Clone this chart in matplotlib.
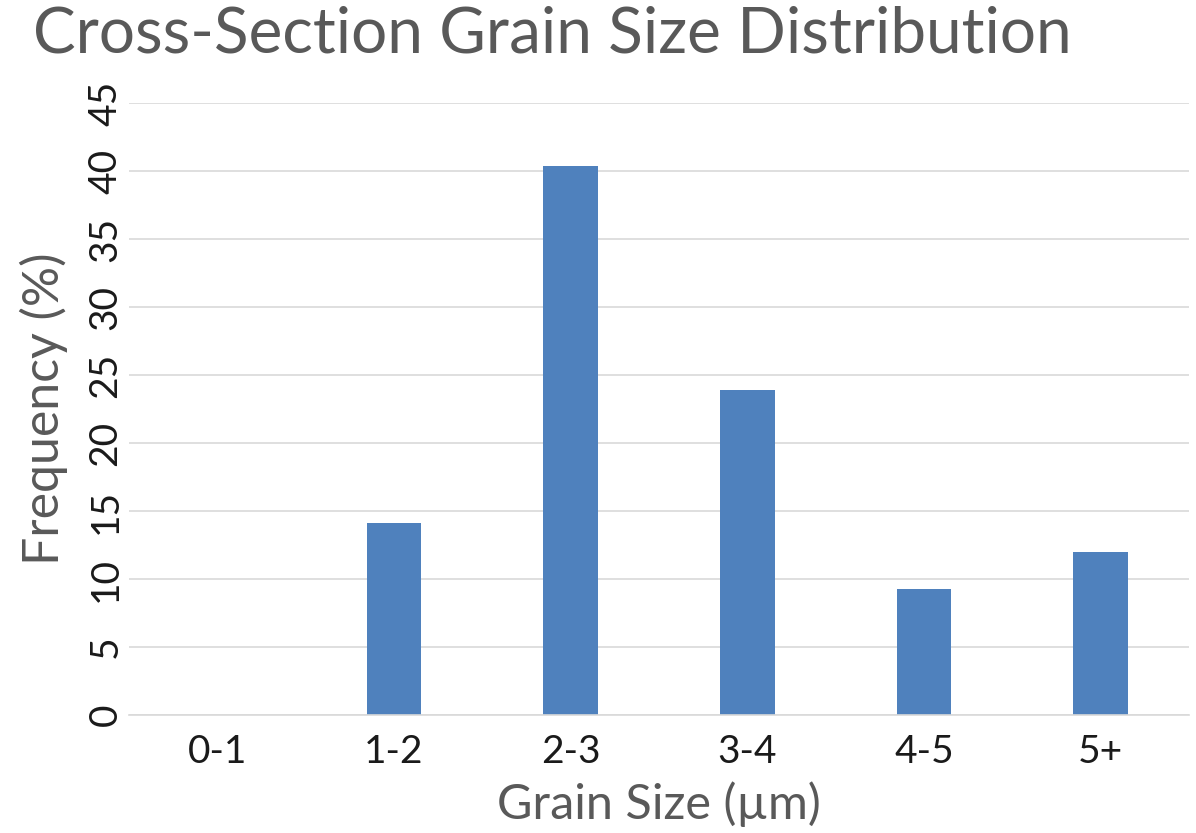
import matplotlib
matplotlib.use("Agg")
import matplotlib.pyplot as plt
import numpy as np

categories = ["0-1", "1-2", "2-3", "3-4", "4-5", "5+"]
frequency = [0.0, 14.1, 40.4, 23.9, 9.3, 12.0]
yticks = [0, 5, 10, 15, 20, 25, 30, 35, 40, 45]

plt.rcParams['font.family'] = ['Lato', 'DejaVu Sans']

fig = plt.figure(figsize=(11.96, 8.33), dpi=100)
W, H = 1196, 833
ax = fig.add_axes([129 / W, (H - 715) / H, (1189 - 129) / W, (715 - 103) / H])

x = np.arange(len(categories))
ax.bar(x, frequency, width=0.31, color="#4f81bd", zorder=3)

ax.set_xlim(-0.5, len(categories) - 0.5)
ax.set_ylim(0, 45)
ax.set_yticks(yticks)
ax.set_yticklabels([str(t) for t in yticks])
ax.set_xticks(x)
ax.set_xticklabels(categories)

ax.grid(axis="y", color="#d9d9d9", linewidth=1.2, zorder=0)
for s in ["top", "right", "left"]:
    ax.spines[s].set_visible(False)
ax.spines["bottom"].set_color("#d9d9d9")
ax.spines["bottom"].set_linewidth(1.2)
ax.spines["bottom"].set_zorder(4)

ax.tick_params(axis="both", length=0, labelsize=28, labelcolor="#1a1a1a")
ax.tick_params(axis="x", pad=14)
ax.tick_params(axis="y", pad=4)
for lbl in ax.get_yticklabels():
    lbl.set_rotation(90)
    lbl.set_va("center")
    lbl.set_ha("right")

ax.set_xlabel("Grain Size (µm)", fontsize=35, color="#595959", labelpad=8)
ax.set_ylabel("Frequency (%)", fontsize=36, color="#595959", labelpad=14)

fig.text(0.462, 0.958, "Cross-Section Grain Size Distribution", fontsize=46,
         color="#595959", ha="center", va="center")

fig.savefig("out.png", dpi=100, facecolor="white")
